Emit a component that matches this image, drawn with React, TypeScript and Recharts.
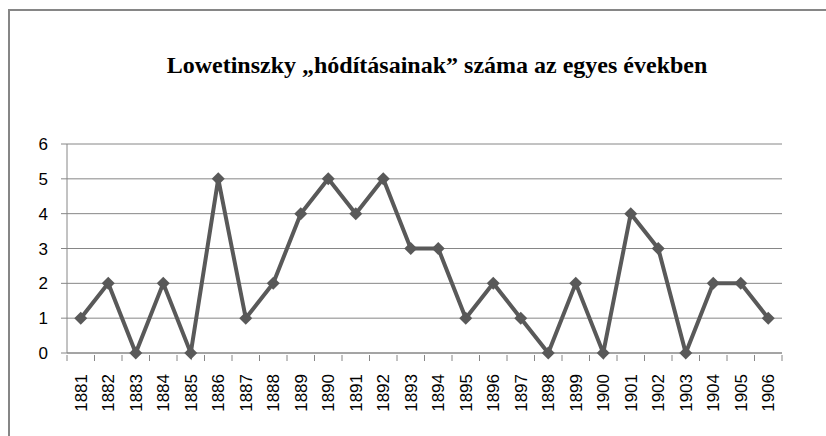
import { LineChart, Line, XAxis, YAxis, CartesianGrid } from 'recharts';

const years = [
  '1881', '1882', '1883', '1884', '1885', '1886', '1887', '1888', '1889', '1890',
  '1891', '1892', '1893', '1894', '1895', '1896', '1897', '1898', '1899', '1900',
  '1901', '1902', '1903', '1904', '1905', '1906',
];
const conquests = [1, 2, 0, 2, 0, 5, 1, 2, 4, 5, 4, 5, 3, 3, 1, 2, 1, 0, 2, 0, 4, 3, 0, 2, 2, 1];
const yTicks = [0, 1, 2, 3, 4, 5, 6];

const data = years.map((year, i) => ({ year, value: conquests[i] }));

const PLOT_LEFT = 67;
const PLOT_RIGHT = 782;
const STEP = (PLOT_RIGHT - PLOT_LEFT) / years.length;
const AXIS_GRAY = '#868686';
const LINE_GRAY = '#595959';
const LABEL_FONT = "'Liberation Sans', Arial, sans-serif";

const Diamond = (props: any) => {
  const { cx, cy } = props;
  if (cx == null || cy == null) return null;
  const r = 6.5;
  return (
    <path
      d={`M${cx},${cy - r} L${cx + r},${cy} L${cx},${cy + r} L${cx - r},${cy} Z`}
      fill={LINE_GRAY}
      stroke="none"
    />
  );
};

const YearTick = (props: any) => {
  const { x, y, payload, index } = props;
  const isLast = index === years.length - 1;
  return (
    <g>
      <line x1={x - STEP / 2} y1={y - 6} x2={x - STEP / 2} y2={y} stroke={AXIS_GRAY} />
      {isLast && <line x1={x + STEP / 2} y1={y - 6} x2={x + STEP / 2} y2={y} stroke={AXIS_GRAY} />}
      <text
        x={x}
        y={y + 13}
        transform={`rotate(-90, ${x}, ${y + 13})`}
        textAnchor="end"
        dy={6}
        fontSize={17}
        fontFamily={LABEL_FONT}
        fill="#000"
      >
        {payload.value}
      </text>
    </g>
  );
};

const ValueTick = (props: any) => {
  const { x, y, payload } = props;
  return (
    <text x={x} y={y} dy={6} textAnchor="end" fontSize={17} fontFamily={LABEL_FONT} fill="#000">
      {payload.value}
    </text>
  );
};

export default function App() {
  return (
    <div style={{ position: 'fixed', left: 0, top: 0, width: 826, height: 436, overflow: 'hidden', background: '#fff' }}>
      <div
        style={{
          position: 'absolute',
          left: 8,
          top: 9,
          width: 900,
          height: 500,
          borderLeft: `2px solid ${AXIS_GRAY}`,
          borderTop: `2px solid ${AXIS_GRAY}`,
        }}
      />
      <div
        style={{
          position: 'absolute',
          left: 0,
          top: 50,
          width: 874,
          textAlign: 'center',
          fontFamily: "'Liberation Serif', 'Times New Roman', serif",
          fontWeight: 'bold',
          fontSize: 24,
          lineHeight: '30px',
          color: '#000',
        }}
      >
        Lowetinszky „hódításainak” száma az egyes években
      </div>
      <div style={{ position: 'absolute', left: 0, top: 0 }}>
        <LineChart
          width={826}
          height={436}
          data={data}
          margin={{ top: 144, right: 826 - PLOT_RIGHT, bottom: 23, left: PLOT_LEFT - 30 }}
        >
          <CartesianGrid vertical={false} stroke={AXIS_GRAY} strokeWidth={1} />
          <XAxis
            dataKey="year"
            height={60}
            interval={0}
            padding={{ left: STEP / 2, right: STEP / 2 }}
            axisLine={{ stroke: AXIS_GRAY }}
            tickLine={false}
            tick={<YearTick />}
          />
          <YAxis
            width={30}
            domain={[0, 6]}
            ticks={yTicks}
            interval={0}
            axisLine={{ stroke: AXIS_GRAY }}
            tickLine={{ stroke: AXIS_GRAY }}
            tickSize={6}
            tickMargin={13}
            tick={<ValueTick />}
          />
          <Line
            type="linear"
            dataKey="value"
            stroke={LINE_GRAY}
            strokeWidth={4}
            dot={<Diamond />}
            activeDot={false}
            isAnimationActive={false}
          />
        </LineChart>
      </div>
    </div>
  );
}
